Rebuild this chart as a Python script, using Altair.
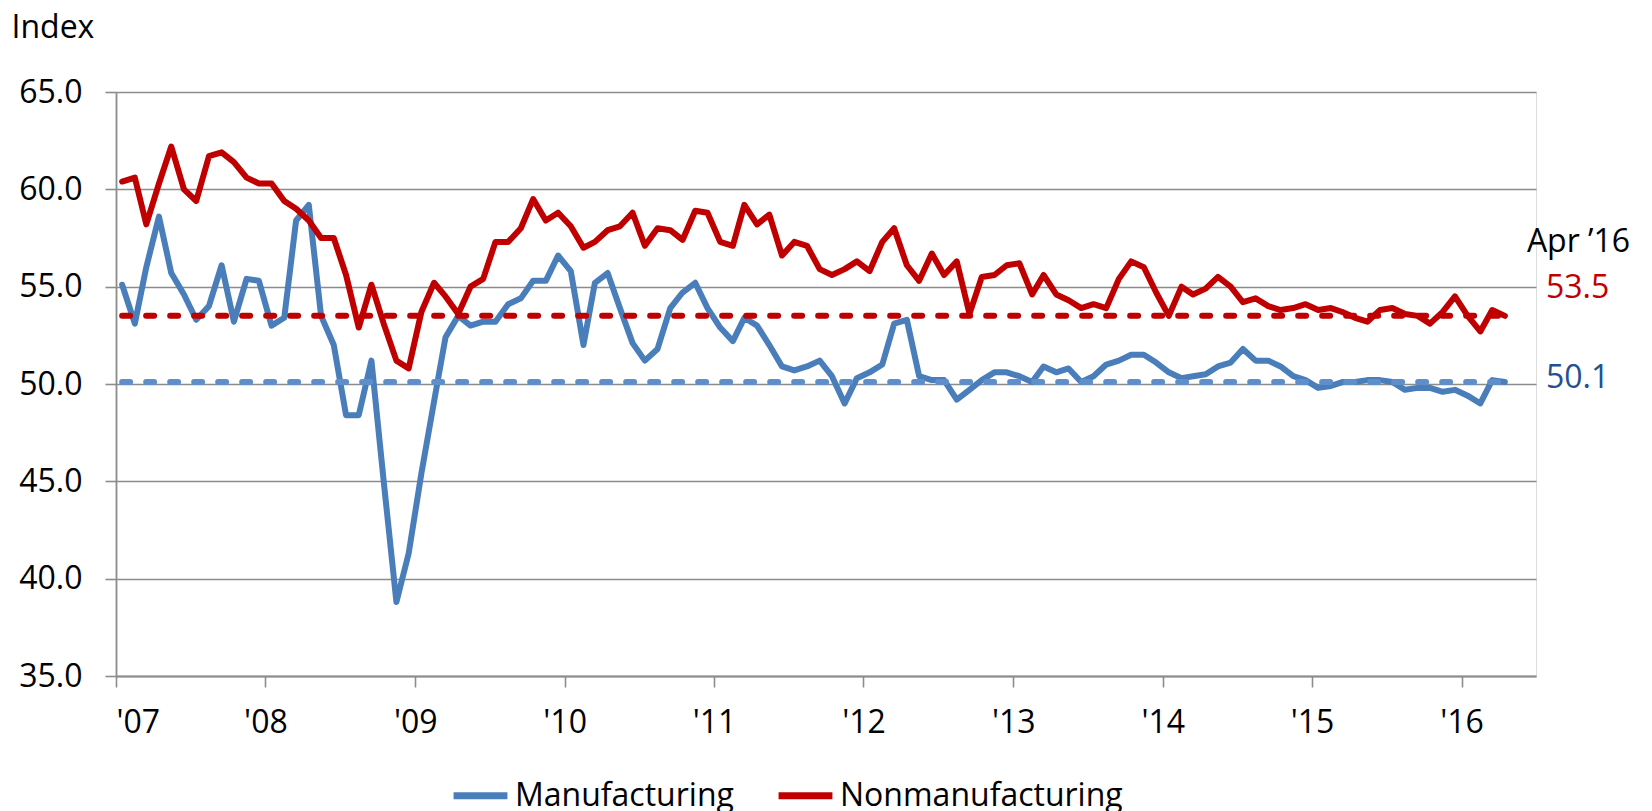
import altair as alt
import pandas as pd

# ---- data -----------------------------------------------------------------
series_names = ["Manufacturing", "Nonmanufacturing"]

manufacturing = [
    55.1, 53.1, 56.0, 58.6, 55.7, 54.6, 53.3, 54.0, 56.1, 53.2, 55.4, 55.3,
    53.0, 53.4, 58.4, 59.2, 53.5, 52.0, 48.4, 48.4, 51.2, 45.0, 38.8, 41.3,
    45.4, 49.1, 52.4, 53.5, 53.0, 53.2, 53.2, 54.1, 54.4, 55.3, 55.3, 56.6,
    55.8, 52.0, 55.2, 55.7, 53.9, 52.1, 51.2, 51.8, 53.9, 54.7, 55.2, 53.9,
    52.9, 52.2, 53.4, 53.0, 52.0, 50.9, 50.7, 50.9, 51.2, 50.4, 49.0, 50.3,
    50.6, 51.0, 53.1, 53.3, 50.4, 50.2, 50.2, 49.2, 49.7, 50.2, 50.6, 50.6,
    50.4, 50.1, 50.9, 50.6, 50.8, 50.1, 50.4, 51.0, 51.2, 51.5, 51.5, 51.1,
    50.6, 50.3, 50.4, 50.5, 50.9, 51.1, 51.8, 51.2, 51.2, 50.9, 50.4, 50.2,
    49.8, 49.9, 50.1, 50.1, 50.2, 50.2, 50.1, 49.7, 49.8, 49.8, 49.6, 49.7,
    49.4, 49.0, 50.2, 50.1,
]

nonmanufacturing = [
    60.4, 60.6, 58.2, 60.3, 62.2, 60.0, 59.4, 61.7, 61.9, 61.4, 60.6, 60.3,
    60.3, 59.4, 59.0, 58.4, 57.5, 57.5, 55.6, 52.9, 55.1, 53.1, 51.2, 50.8,
    53.7, 55.2, 54.5, 53.6, 55.0, 55.4, 57.3, 57.3, 58.0, 59.5, 58.4, 58.8,
    58.1, 57.0, 57.3, 57.9, 58.1, 58.8, 57.1, 58.0, 57.9, 57.4, 58.9, 58.8,
    57.3, 57.1, 59.2, 58.2, 58.7, 56.6, 57.3, 57.1, 55.9, 55.6, 55.9, 56.3,
    55.8, 57.3, 58.0, 56.1, 55.3, 56.7, 55.6, 56.3, 53.6, 55.5, 55.6, 56.1,
    56.2, 54.6, 55.6, 54.6, 54.3, 53.9, 54.1, 53.9, 55.4, 56.3, 56.0, 54.7,
    53.5, 55.0, 54.6, 54.9, 55.5, 55.0, 54.2, 54.4, 54.0, 53.8, 53.9, 54.1,
    53.8, 53.9, 53.7, 53.4, 53.2, 53.8, 53.9, 53.6, 53.5, 53.1, 53.7, 54.5,
    53.5, 52.7, 53.8, 53.5,
]

# monthly categories Jan 2007 .. Apr 2016 (plotted mid-month)
months = [d.strftime("%Y-%m-16T00:00:00")
          for d in pd.date_range("2007-01-01", periods=len(manufacturing), freq="MS")]

year_ticks = list(range(2007, 2017))
latest_label = "Apr \u201916"

# ---- styles ---------------------------------------------------------------
BLUE = "#4A7EBB"
BLUE_DASH = "#5F8FCB"
BLUE_TEXT = "#23508E"
RED = "#C00000"
GRID = "#8C8C8C"
FONT = "Open Sans"
FS = 32
LW = 6

df = pd.DataFrame({
    "date": months * 2,
    "series": [series_names[0]] * len(months) + [series_names[1]] * len(months),
    "value": manufacturing + nonmanufacturing,
})

ref = pd.DataFrame({
    "series": series_names,
    "start": [months[0], months[0]],
    "end": [months[-1], months[-1]],
    "value": [manufacturing[-1], nonmanufacturing[-1]],
})

x_scale = alt.Scale(domain=[alt.DateTime(year=2007, month=1, date=1),
                            alt.DateTime(year=2016, month=7, date=1)])
y_scale = alt.Scale(domain=[35, 65], nice=False, zero=False)

x_axis = alt.Axis(
    values=[alt.DateTime(year=y, month=1, date=1) for y in year_ticks],
    format="'%y", formatType="time", grid=False, title=None,
    tickSize=11, tickColor=GRID, tickWidth=1.6,
    domainColor=GRID, domainWidth=1.8,
    labelFont=FONT, labelFontSize=FS, labelColor="black",
    labelPadding=20, labelAngle=0,
)
y_axis = alt.Axis(
    values=[35, 40, 45, 50, 55, 60, 65], format=".1f",
    title="Index", titleAngle=0, titleAlign="left", titleBaseline="alphabetic",
    titleX=-105, titleY=-55, titleFont=FONT, titleFontSize=FS,
    titleFontWeight="normal", titleColor="black",
    grid=True, gridColor=GRID, gridWidth=1.6,
    tickSize=11, tickColor=GRID, tickWidth=1.6,
    domainColor=GRID, domainWidth=1.8,
    labelFont=FONT, labelFontSize=FS, labelColor="black", labelPadding=23,
)

base = alt.Chart(df)

lines = base.mark_line(strokeWidth=LW, strokeJoin="round", strokeCap="round").encode(
    x=alt.X("date:T", scale=x_scale, axis=x_axis),
    y=alt.Y("value:Q", scale=y_scale, axis=y_axis),
    color=alt.Color(
        "series:N",
        scale=alt.Scale(domain=series_names, range=[BLUE, RED]),
        legend=alt.Legend(
            orient="none", legendX=334, legendY=673, direction="horizontal",
            title=None, symbolType="stroke", symbolSize=2900,
            symbolStrokeWidth=7, labelFont=FONT, labelFontSize=FS,
            labelColor="black", labelOffset=4, columnPadding=30,
            labelLimit=600, gridAlign="each",
        ),
    ),
    detail="series:N",
)

rules = alt.Chart(ref).mark_rule(strokeWidth=LW, strokeDash=[8, 16], strokeCap="round").encode(
    x=alt.X("start:T", scale=x_scale),
    x2="end:T",
    y=alt.Y("value:Q", scale=y_scale),
    stroke=alt.Stroke("series:N",
                      scale=alt.Scale(domain=series_names, range=[BLUE_DASH, RED]),
                      legend=None),
)

lab_df = pd.DataFrame({
    "date": [months[-1]],
    "red": [nonmanufacturing[-1]],
    "blue": [manufacturing[-1]],
    "red_txt": [f"{nonmanufacturing[-1]:.1f}"],
    "blue_txt": [f"{manufacturing[-1]:.1f}"],
    "head": [latest_label],
})
lab = alt.Chart(lab_df)
t_head = lab.mark_text(align="left", baseline="middle", dx=22, dy=-74,
                       font=FONT, fontSize=FS, color="black").encode(
    x=alt.X("date:T", scale=x_scale), y=alt.Y("red:Q", scale=y_scale), text="head:N")
t_red = lab.mark_text(align="left", baseline="middle", dx=41, dy=-28,
                      font=FONT, fontSize=FS, color=RED).encode(
    x=alt.X("date:T", scale=x_scale), y=alt.Y("red:Q", scale=y_scale), text="red_txt:N")
t_blue = lab.mark_text(align="left", baseline="middle", dx=41, dy=-4,
                       font=FONT, fontSize=FS, color=BLUE_TEXT).encode(
    x=alt.X("date:T", scale=x_scale), y=alt.Y("blue:Q", scale=y_scale), text="blue_txt:N")

chart = alt.layer(lines, rules, t_head, t_red, t_blue).properties(
    width=1420, height=584,
    autosize=alt.AutoSizeParams(type="none"),
    padding={"left": 108, "top": 84, "right": 105, "bottom": 135},
).configure_view(stroke=None).configure(font=FONT)

chart.save("out.html", embed_options={"renderer": "svg", "actions": False})
